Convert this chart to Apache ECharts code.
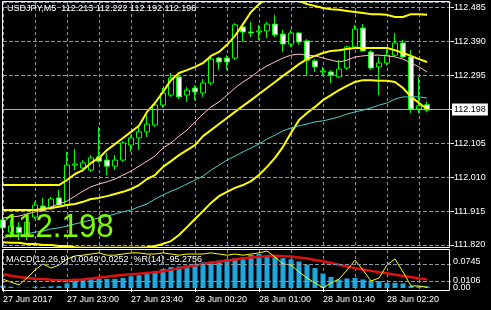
<!DOCTYPE html>
<html>
<head>
<meta charset="utf-8">
<script src="https://cdn.jsdelivr.net/npm/echarts@6/dist/echarts.min.js"></script>
<style>
html,body{margin:0;padding:0;background:#000;}
#chart{width:491px;height:310px;}
</style>
</head>
<body>
<div id="chart"></div>
<script>
// ---- data (USDJPY M5) ----
const times = [
'27 Jun 22:20','27 Jun 22:25','27 Jun 22:30','27 Jun 22:35','27 Jun 22:40','27 Jun 22:45','27 Jun 22:50','27 Jun 22:55',
'27 Jun 23:00','27 Jun 23:05','27 Jun 23:10','27 Jun 23:15','27 Jun 23:20','27 Jun 23:25','27 Jun 23:30','27 Jun 23:35',
'27 Jun 23:40','27 Jun 23:45','27 Jun 23:50','27 Jun 23:55','28 Jun 00:00','28 Jun 00:05','28 Jun 00:10','28 Jun 00:15',
'28 Jun 00:20','28 Jun 00:25','28 Jun 00:30','28 Jun 00:35','28 Jun 00:40','28 Jun 00:45','28 Jun 00:50','28 Jun 00:55',
'28 Jun 01:00','28 Jun 01:05','28 Jun 01:10','28 Jun 01:15','28 Jun 01:20','28 Jun 01:25','28 Jun 01:30','28 Jun 01:35',
'28 Jun 01:40','28 Jun 01:45','28 Jun 01:50','28 Jun 01:55','28 Jun 02:00','28 Jun 02:05','28 Jun 02:10','28 Jun 02:15',
'28 Jun 02:20','28 Jun 02:25','28 Jun 02:30','28 Jun 02:35','28 Jun 02:40','28 Jun 02:45','28 Jun 02:50','28 Jun 02:55','28 Jun 03:00'
];
const firstTimeLabel = '27 Jun 2017';
const opens = [111.890,111.856,111.870,111.845,111.898,111.929,111.921,111.952,111.932,112.044,112.036,112.030,112.067,112.058,112.041,112.058,112.100,112.120,112.137,112.156,112.212,112.240,112.291,112.240,112.260,112.246,112.274,112.344,112.344,112.344,112.431,112.417,112.417,112.420,112.439,112.411,112.383,112.414,112.392,112.336,112.305,112.305,112.291,112.316,112.375,112.428,112.361,112.319,112.330,112.352,112.386,112.347,112.201,112.213];
const closes = [111.868,111.873,111.854,111.884,111.932,111.915,111.949,111.932,112.044,112.047,112.050,112.064,112.055,112.041,112.058,112.106,112.120,112.137,112.159,112.212,112.246,112.288,112.235,112.254,112.249,112.274,112.341,112.333,112.333,112.437,112.417,112.414,112.420,112.439,112.409,112.383,112.414,112.389,112.338,112.319,112.308,112.296,112.313,112.375,112.425,112.364,112.316,112.330,112.352,112.386,112.347,112.201,112.210,112.198];
const lows = [111.856,111.840,111.834,111.834,111.893,111.913,111.918,111.927,111.929,112.030,112.025,112.025,112.050,112.016,112.030,112.053,112.081,112.086,112.123,112.151,112.204,112.235,112.229,112.221,112.226,112.235,112.268,112.310,112.310,112.338,112.389,112.403,112.395,112.400,112.403,112.361,112.375,112.381,112.296,112.305,112.294,112.274,112.288,112.310,112.372,112.361,112.310,112.240,112.324,112.347,112.344,112.190,112.190,112.192];
const highs = [111.901,111.890,111.884,111.896,111.941,111.952,111.955,111.974,112.081,112.089,112.058,112.072,112.151,112.078,112.072,112.111,112.128,112.151,112.184,112.221,112.260,112.302,112.296,112.263,112.268,112.285,112.352,112.347,112.352,112.442,112.442,112.445,112.437,112.445,112.465,112.423,112.423,112.417,112.397,112.341,112.319,112.310,112.338,112.378,112.437,112.439,112.366,112.347,112.372,112.414,112.395,112.366,112.291,112.222];
const bbUpper = [111.988,111.988,111.988,111.988,111.988,111.988,111.988,111.988,112.002,112.019,112.030,112.050,112.064,112.086,112.103,112.120,112.137,112.154,112.193,112.218,112.249,112.282,112.302,112.310,112.319,112.330,112.350,112.361,112.381,112.406,112.439,112.473,112.495,112.512,112.523,112.523,112.515,112.504,112.495,112.490,112.484,112.481,112.479,112.476,112.473,112.470,112.467,112.467,112.465,112.459,112.459,112.467,112.467,112.465];
const bbMiddle = [111.918,111.918,111.918,111.918,111.918,111.921,111.924,111.927,111.932,111.935,111.941,111.949,111.952,111.957,111.963,111.969,111.977,111.988,112.005,112.016,112.039,112.055,112.072,112.086,112.100,112.125,112.142,112.159,112.176,112.193,112.210,112.226,112.243,112.260,112.277,112.294,112.310,112.327,112.341,112.350,112.358,112.364,112.366,112.369,112.372,112.372,112.372,112.372,112.372,112.366,112.358,112.350,112.341,112.333];
const bbLower = [111.828,111.826,111.826,111.823,111.823,111.820,111.820,111.817,111.817,111.814,111.812,111.812,111.812,111.812,111.812,111.812,111.812,111.812,111.814,111.817,111.823,111.831,111.848,111.870,111.893,111.915,111.938,111.957,111.969,111.980,111.988,111.999,112.016,112.039,112.064,112.095,112.134,112.170,112.190,112.207,112.226,112.240,112.254,112.266,112.277,112.282,112.282,112.280,112.280,112.277,112.260,112.235,112.218,112.201];
const maPink = [111.896,111.898,111.901,111.907,111.913,111.918,111.927,111.935,111.943,111.957,111.971,111.983,111.991,111.997,112.005,112.016,112.027,112.041,112.055,112.069,112.092,112.106,112.125,112.142,112.165,112.187,112.207,112.221,112.240,112.260,112.277,112.291,112.308,112.322,112.333,112.344,112.352,112.355,112.352,112.350,112.344,112.338,112.333,112.338,112.347,112.350,112.352,112.352,112.350,112.347,112.341,112.330,112.319,112.305];
const maCyan = [111.840,111.845,111.848,111.851,111.856,111.859,111.865,111.868,111.873,111.879,111.884,111.890,111.896,111.901,111.907,111.913,111.918,111.927,111.935,111.949,111.960,111.971,111.980,111.991,112.002,112.013,112.030,112.044,112.058,112.069,112.081,112.092,112.103,112.117,112.128,112.140,112.148,112.154,112.159,112.165,112.168,112.173,112.179,112.187,112.193,112.198,112.204,112.212,112.218,112.229,112.235,112.235,112.235,112.232];
const macdMain = [0.0077,0.0037,0.0009,0.0009,0.0037,0.0037,0.0049,0.0057,0.0135,0.0201,0.0250,0.0278,0.0278,0.0267,0.0267,0.0296,0.0344,0.0373,0.0410,0.0488,0.0554,0.0611,0.0631,0.0660,0.0709,0.0746,0.0775,0.0804,0.0841,0.0870,0.0890,0.0967,0.0996,0.0938,0.0898,0.0870,0.0841,0.0775,0.0680,0.0583,0.0422,0.0324,0.0250,0.0278,0.0296,0.0250,0.0221,0.0201,0.0152,0.0152,0.0135,0.0060,0.0050,0.0049];
const macdSignal = [0.040,0.036,0.032,0.029,0.027,0.026,0.024,0.023,0.023,0.024,0.025,0.028,0.031,0.033,0.036,0.038,0.040,0.042,0.044,0.046,0.049,0.053,0.058,0.062,0.066,0.070,0.074,0.077,0.080,0.083,0.086,0.089,0.091,0.093,0.094,0.093,0.092,0.089,0.086,0.082,0.078,0.073,0.068,0.063,0.058,0.054,0.050,0.046,0.043,0.039,0.035,0.032,0.028,0.0252];
const wpr = [-74,-82,-89,-71,-50,-34,-45,-37,-21,-13,-11,-8,-5,-11,-11,-8,-5,-5,-8,-8,-5,-8,-11,-8,-8,-8,-5,-8,-11,-8,-11,-8,-5,0,-16,-34,-37,-55,-71,-84,-97,-84,-74,-50,-24,-50,-79,-71,-37,-21,-55,-92,-92,-95.2756];
const priceMin = 111.820, priceMax = 112.501, priceStep = 0.095;
const subLevels = [0.0745,0.0161];
const subLabels = ['0.0745','0.0106','0.00'];

// ---- chart ----
const FONT = '"Liberation Sans", Arial, sans-serif';
const gridColor = '#8a97a4';
const last = closes.length - 1;
const tickEvery8 = (i) => i % 8 === 0 && i <= last;
const tickEvery4 = (i) => i % 4 === 0 && i <= last;

const chart = echarts.init(document.getElementById('chart'), null, {renderer:'canvas'});
const candleData = opens.map((o, i) => [o, closes[i], lows[i], highs[i]]);
const lineS = (name, data, color, width, xi, yi, clip) => ({
  name, type:'line', data, xAxisIndex:xi, yAxisIndex:yi, showSymbol:false, symbol:'none',
  lineStyle:{color, width}, silent:true, z:3, clip: clip !== false
});

const option = {
  backgroundColor:'#000',
  animation:false,
  grid:[
    {left:3, top:2, width:448, height:243},
    {left:3, top:250, width:448, height:40}
  ],
  xAxis:[
    {type:'category', gridIndex:0, data:times, boundaryGap:false,
     axisLine:{show:false}, axisTick:{show:false}, axisLabel:{show:false},
     splitLine:{show:true, interval:(i)=>tickEvery4(i), lineStyle:{color:gridColor, type:[3,3], width:1}}},
    {type:'category', gridIndex:1, data:times, boundaryGap:false,
     axisLine:{show:false},
     axisTick:{show:true, interval:(i)=>tickEvery8(i), length:4, lineStyle:{color:'#fff'}},
     axisLabel:{show:true, interval:(i)=>tickEvery8(i), color:'#fff', fontSize:9, fontFamily:FONT, align:'left', margin:5,
       formatter:(v, i) => i === 0 ? firstTimeLabel : v},
     splitLine:{show:true, interval:(i)=>tickEvery4(i), lineStyle:{color:gridColor, type:[3,3], width:1}}}
  ],
  yAxis:[
    {type:'value', gridIndex:0, position:'right', min:priceMin, max:priceMax, interval:priceStep,
     axisLine:{show:false},
     axisTick:{show:true, length:3, lineStyle:{color:'#fff'}},
     axisLabel:{show:true, showMaxLabel:false, color:'#fff', fontSize:9, fontFamily:FONT, margin:3,
       formatter:(v) => Math.abs(v - 112.2) < 1e-6 ? '' : v.toFixed(3)},
     splitLine:{show:true, showMinLine:true, showMaxLine:true, lineStyle:{color:gridColor, type:'dashed', width:1}}},
    {type:'value', gridIndex:1, position:'right', min:-0.005843, max:0.11102,
     axisLine:{show:false}, axisTick:{show:false}, axisLabel:{show:false}, splitLine:{show:false}},
    {type:'value', gridIndex:1, position:'right', min:-102.63, max:2.63,
     axisLine:{show:false}, axisTick:{show:false}, axisLabel:{show:false}, splitLine:{show:false}}
  ],
  series:[
    {name:'USDJPY', type:'candlestick', xAxisIndex:0, yAxisIndex:0, data:candleData, barWidth:5, z:2,
     itemStyle:{color:'#000', color0:'#fff', borderColor:'#00ff00', borderColor0:'#00ff00', borderWidth:1},
     markLine:{silent:true, symbol:'none', animation:false,
       data:[{yAxis:closes[last]}],
       lineStyle:{color:'#a8b0b8', type:'solid', width:1},
       label:{show:true, position:'end', distance:1, formatter:closes[last].toFixed(3),
         backgroundColor:'#fff', color:'#000', fontSize:9, fontFamily:FONT, padding:[2,2,1,2]}}},
    lineS('BB upper', bbUpper, '#ffff00', 2, 0, 0),
    lineS('BB middle', bbMiddle, '#ffff00', 2, 0, 0),
    lineS('BB lower', bbLower, '#ffff00', 2, 0, 0, false),
    lineS('MA pink', maPink, '#ffc0cb', 1, 0, 0),
    lineS('MA cyan', maCyan, '#48d1cc', 1, 0, 0),
    {name:'MACD', type:'bar', xAxisIndex:1, yAxisIndex:1, data:macdMain, barWidth:5,
     itemStyle:{color:'#1ea8e2'}, silent:true,
     markLine:{silent:true, symbol:'none', animation:false, label:{show:false},
       data:subLevels.map(v => ({yAxis:v})),
       lineStyle:{color:gridColor, type:'dashed', width:1}}},
    lineS('Signal', macdSignal, '#e01010', 2.5, 1, 1),
    lineS('%R', wpr, '#ffff00', 1, 1, 2)
  ],
  graphic:[
    {type:'rect', silent:true, z:100, shape:{x:2.5, y:1.5, width:447, height:246}, style:{fill:null, stroke:'#fff', lineWidth:1}},
    {type:'rect', silent:true, z:100, shape:{x:2.5, y:249.5, width:447, height:41}, style:{fill:null, stroke:'#fff', lineWidth:1}},
    {type:'rect', silent:true, z:99, shape:{x:0, y:248, width:452, height:1}, style:{fill:'#000'}},
    {type:'text', silent:true, z:101, x:7, y:9, style:{
      text:'USDJPY,M5  ' + [opens[last], highs[last], lows[last], closes[last]].map(v => v.toFixed(3)).join(' '),
      fill:'#fff', font:'9px ' + FONT, verticalAlign:'middle'}},
    {type:'text', silent:true, z:101, x:3, y:228, scaleX:0.92, style:{
      text:closes[last].toFixed(3), fill:'#7cfc00', font:'34px ' + FONT, verticalAlign:'middle'}},
    {type:'text', silent:true, z:101, x:6, y:260, style:{
      text:'MACD(12,26,9) ' + macdMain[last].toFixed(4) + ' ' + macdSignal[last].toFixed(4) + '  %R(14) ' + wpr[last].toFixed(4),
      fill:'#fff', font:'9px ' + FONT, verticalAlign:'middle'}},
    {type:'text', silent:true, z:101, x:453, y:262, style:{text:subLabels[0], fill:'#fff', font:'9px ' + FONT, verticalAlign:'middle'}},
    {type:'text', silent:true, z:101, x:453, y:281, style:{text:subLabels[1], fill:'#fff', font:'9px ' + FONT, verticalAlign:'middle'}},
    {type:'text', silent:true, z:101, x:453, y:288, style:{text:subLabels[2], fill:'#fff', font:'9px ' + FONT, verticalAlign:'middle'}}
  ]
};
chart.setOption(option);
</script>
</body>
</html>
